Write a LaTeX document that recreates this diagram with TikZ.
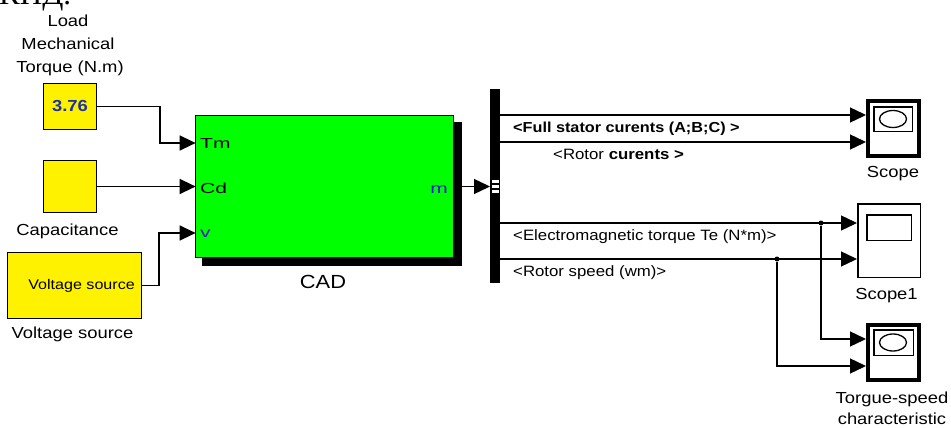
\documentclass[tikz,border=0pt]{standalone}
\usepackage{fontspec}
\setmainfont{Liberation Sans}
\newfontfamily\lblfont[FakeStretch=1.15]{Liberation Sans}
\newfontfamily\busfont[FakeStretch=1.12]{Liberation Sans}
\newfontfamily\portfont[FakeStretch=1.45]{Liberation Sans}
\newfontfamily\rufont{Liberation Serif}
\usetikzlibrary{arrows.meta}
\definecolor{blkgreen}{RGB}{0,255,0}
\definecolor{numblue}{RGB}{30,50,160}
\definecolor{portblue}{RGB}{40,30,200}
\begin{document}
\begin{tikzpicture}[x=1pt,y=-1pt,
  yblk/.style={draw,line width=1.3pt,fill=yellow,inner sep=0pt,outer sep=0pt},
  arr/.style={line width=1.3pt,-{Triangle[length=16pt,width=15pt]}},
  lbl/.style={font=\lblfont\fontsize{16}{19}\selectfont,inner sep=0pt,anchor=base},
  buslbl/.style={font=\busfont\fontsize{15}{18}\selectfont,inner sep=0pt,anchor=base west},
  portlbl/.style={font=\portfont\fontsize{14.5}{16}\selectfont,inner sep=0pt},
  scopebox/.style={draw,line width=4pt,fill=white,inner sep=0pt,outer sep=2pt},
  dot/.style={circle,fill=black,inner sep=0pt,minimum size=5pt}
]
\fill[white] (0,0) rectangle (951,428);
\useasboundingbox (0,0) rectangle (951,428);

% cut-off heading
\node[anchor=base west,inner sep=0pt,font=\rufont\fontsize{31}{31}\selectfont] (kpd) at (-1,5) {КПД.};

% source blocks
\node[yblk,minimum width=52.7pt,minimum height=45.7pt,font=\lblfont\fontsize{16}{19}\selectfont\bfseries,text=numblue] (c376) at (70,106.5) {3.76};
\node[yblk,minimum width=52.7pt,minimum height=51.7pt] (cap) at (70,186.5) {};
\node[yblk,minimum width=133.7pt,minimum height=65.7pt] (vs) at (74.5,285.5) {};
\node[anchor=base east,inner sep=0pt,font=\lblfont\fontsize{14}{17}\selectfont] (vstext) at (135,289) {Voltage source};

\node[lbl] (lLoad) at (68,27) {Load};
\node[lbl] (lMech) at (68,50) {Mechanical};
\node[lbl] (lTorque) at (70,73) {Torque (N.m)};
\node[lbl] (lCap) at (67.5,235) {Capacitance};
\node[lbl] (lVs) at (72.5,338) {Voltage source};

% CAD block
\node[fill=black,inner sep=0pt,outer sep=0pt,minimum width=260pt,minimum height=144pt] (shadow) at (332,194) {};
\node[draw,line width=1.3pt,fill=blkgreen,inner sep=0pt,outer sep=0pt,minimum width=257.7pt,minimum height=141.7pt] (cad) at (324.5,186.5) {};
\node[font=\lblfont\fontsize{19}{22}\selectfont,anchor=base,inner sep=0pt] (lCad) at (323,288) {CAD};
\node[portlbl,anchor=base west] (pTm) at (200,148) {Tm};
\node[portlbl,anchor=base west] (pCd) at (200,193) {Cd};
\node[portlbl,anchor=base west,text=portblue] (pv) at (200,237) {v};
\node[portlbl,anchor=base east,text=portblue] (pm) at (448,193) {m};

% bus
\node[fill=black,inner sep=0pt,outer sep=0pt,minimum width=10pt,minimum height=194pt] (bus) at (495,186) {};
\fill[white] (491.5,179.5) rectangle (498.5,183);
\fill[white] (491.5,184.5) rectangle (498.5,188);
\fill[white] (491.5,189.5) rectangle (498.5,193);

% y levels
\coordinate (yTm) at (0,143);
\coordinate (yv) at (0,233);
\coordinate (yo1) at (0,115);
\coordinate (yo2) at (0,142);
\coordinate (yo3) at (0,223);
\coordinate (yo4) at (0,259);
\coordinate (yt1) at (0,339);
\coordinate (yt2) at (0,366);

% scopes
\node[scopebox,minimum width=51pt,minimum height=55pt] (scope) at (893.5,128.5) {};
\draw[line width=1.5pt] (873.75,106.75) rectangle (912.25,131.25);
\draw[line width=1.3pt] (893,119) ellipse [x radius=13.5pt,y radius=8.5pt];
\node[draw,line width=1.5pt,fill=white,inner sep=0pt,outer sep=0.75pt,minimum width=62.5pt,minimum height=73.5pt] (scope1) at (889,240.5) {};
\draw[line width=1.5pt] (866.75,214.75) rectangle (911.25,240.25);
\node[scopebox,minimum width=51pt,minimum height=55pt] (tq) at (893.5,352.5) {};
\draw[line width=1.5pt] (873.75,329.75) rectangle (913.25,355.25);
\draw[line width=1.3pt] (893,342.5) ellipse [x radius=13.5pt,y radius=8.5pt];

\node[lbl] (lScope) at (893,177) {Scope};
\node[lbl] (lScope1) at (886.5,299) {Scope1};
\node[lbl] (lTq1) at (892,403) {Torgue-speed};
\node[lbl] (lTq2) at (892,424) {characteristic};

% input connectors
\draw[arr] (c376.east) -| (160,143) -- (cad.west |- yTm);
\draw[arr] (cap.east) -- (cad.west |- cap.east);
\draw[arr] (vs.east) -| (159,233) -- (cad.west |- yv);
\draw[arr] (shadow.east |- cad.east) -- (bus.west |- cad.east);

% bus outputs
\draw[arr] (bus.east |- yo1) -- (scope.west |- yo1);
\draw[arr] (bus.east |- yo2) -- (scope.west |- yo2);
\draw[arr] (bus.east |- yo3) -- (scope1.west |- yo3);
\draw[arr] (bus.east |- yo4) -- (scope1.west |- yo4);
\node[dot] (d1) at (821,223) {};
\node[dot] (d2) at (777,259) {};
\draw[arr] (d1) |- (tq.west |- yt1);
\draw[arr] (d2) |- (tq.west |- yt2);

\node[buslbl,font=\busfont\fontsize{14.5}{18}\selectfont\bfseries] (b1) at (513,132) {<Full stator curents (A;B;C) >};
\node[buslbl] (b2) at (553,159) {<Rotor \textbf{curents >}};
\node[buslbl] (b3) at (513,240) {<Electromagnetic torque Te (N*m)>};
\node[buslbl] (b4) at (513,276) {<Rotor speed (wm)>};
\end{tikzpicture}
\end{document}
